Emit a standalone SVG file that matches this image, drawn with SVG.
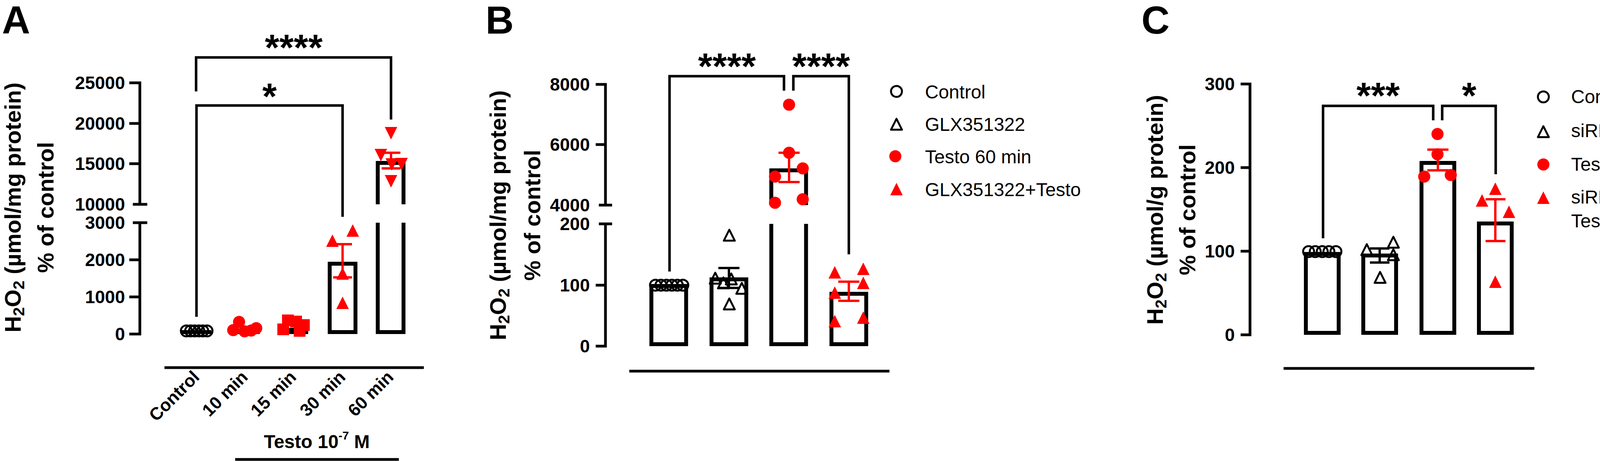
<svg xmlns="http://www.w3.org/2000/svg" xmlns:xlink="http://www.w3.org/1999/xlink" width="4300" height="1180" viewBox="0 0 4300 1180">
<style>
text{font-family:"Liberation Sans",Arial,sans-serif;font-weight:bold;fill:#000}
.ax{stroke:#000;stroke-width:7;fill:none}
.bar{stroke:#000;stroke-width:10;fill:#fff}
.barl{stroke:#000;stroke-width:10;fill:none}
.br{stroke:#000;stroke-width:6.5;fill:none}
.eb{stroke:#f00;stroke-width:6;fill:none}
.base{stroke:#000;stroke-width:7;fill:none}
.tick{font-size:46px;text-anchor:end}
.star{font-size:95px;text-anchor:middle}
.xl{font-size:45px;text-anchor:end}
.ttl{font-size:58px;text-anchor:middle}
.pl{font-size:100px}
.leg{font-size:48px;font-weight:normal}
</style>
<defs>
<circle id="oc" r="14" fill="none" stroke="#000" stroke-width="5"/>
<circle id="rc" r="15.5" fill="#f00"/>
<path id="ot" d="M0,-14 L14,14 L-14,14 Z" fill="none" stroke="#000" stroke-width="5" stroke-linejoin="round"/>
<path id="rt" d="M0,-16 L16,16 L-16,16 Z" fill="#f00"/>
<path id="rit" d="M0,16 L16,-16 L-16,-16 Z" fill="#f00"/>
<rect id="rs" x="-15" y="-15" width="30" height="30" fill="#f00"/>
</defs>

<!-- ================= PANEL A ================= -->
<g id="panelA">
<text class="pl" x="5" y="86">A</text>
<g id="A-ytitle">
<text class="ttl" transform="translate(53,531) rotate(-90)">H<tspan font-size="41" dy="9">2</tspan><tspan dy="-9">O</tspan><tspan font-size="41" dy="9">2</tspan><tspan dy="-9"> (µmol/mg protein)</tspan></text>
<text class="ttl" transform="translate(137,531) rotate(-90)">% of control</text>
</g>
<g id="A-yaxis">
<path class="ax" d="M331,212 H358 V523"/>
<path class="ax" d="M331,316 H358 M331,419 H358"/>
<path class="ax" d="M340,523 H377 M340,570 H377"/>
<path class="ax" d="M358,570 V855 H331 M331,665 H358 M331,760 H358"/>
<text class="tick" x="320" y="228">25000</text>
<text class="tick" x="320" y="332">20000</text>
<text class="tick" x="320" y="435">15000</text>
<text class="tick" x="320" y="539">10000</text>
<text class="tick" x="320" y="586">3000</text>
<text class="tick" x="320" y="681">2000</text>
<text class="tick" x="320" y="776">1000</text>
<text class="tick" x="320" y="871">0</text>
</g>
<g id="A-bar-control">
<rect x="465" y="845" width="76" height="10" fill="#000"/>
<use xlink:href="#oc" x="477" y="847"/><use xlink:href="#oc" x="488" y="847"/><use xlink:href="#oc" x="498" y="847"/><use xlink:href="#oc" x="509" y="847"/><use xlink:href="#oc" x="519" y="847"/><use xlink:href="#oc" x="530" y="847"/>
</g>
<g id="A-bar-10min">
<rect x="589" y="843" width="76" height="12" fill="#000"/>
<use xlink:href="#rc" x="612" y="824"/><use xlink:href="#rc" x="597" y="845"/><use xlink:href="#rc" x="626" y="848"/><use xlink:href="#rc" x="643" y="846"/><use xlink:href="#rc" x="656" y="840"/>
</g>
<g id="A-bar-15min">
<rect x="713" y="839" width="76" height="16" fill="#000"/>
<use xlink:href="#rs" x="737" y="820"/><use xlink:href="#rs" x="758" y="823"/><use xlink:href="#rs" x="778" y="832"/><use xlink:href="#rs" x="725" y="843"/><use xlink:href="#rs" x="767" y="847"/>
</g>
<g id="A-bar-30min">
<path class="bar" d="M844,850 V675 H910 V850 Z"/>
<path class="eb" d="M877,625 V710 M853,625 H901 M853,710 H901"/>
<use xlink:href="#rt" x="851" y="616"/><use xlink:href="#rt" x="903" y="590"/><use xlink:href="#rt" x="877" y="700"/><use xlink:href="#rt" x="877" y="775"/>
</g>
<g id="A-bar-60min">
<path class="barl" d="M967,523 V417 H1033 V523"/>
<path class="barl" d="M967,570 V850 H1033 V570"/>
<path class="eb" d="M1001,391 V431 M977,391 H1025 M977,431 H1025"/>
<use xlink:href="#rit" x="1001" y="341"/><use xlink:href="#rit" x="975" y="397"/><use xlink:href="#rit" x="1003" y="421"/><use xlink:href="#rit" x="1028" y="420"/><use xlink:href="#rit" x="1001" y="464"/>
</g>
<g id="A-connectors">
<path class="br" d="M502,234 V147 H1001 V306"/>
<path class="br" d="M503,811 V270 H877 V555"/>
<text class="star" x="752" y="154">****</text>
<text class="star" x="690" y="279">*</text>
</g>
<g id="A-xaxis">
<path class="base" d="M421,941 H1085"/>
<text class="xl" transform="translate(513,968) rotate(-45)">Control</text>
<text class="xl" transform="translate(637,968) rotate(-45)">10 min</text>
<text class="xl" transform="translate(761,968) rotate(-45)">15 min</text>
<text class="xl" transform="translate(887,968) rotate(-45)">30 min</text>
<text class="xl" transform="translate(1010,968) rotate(-45)">60 min</text>
<text font-size="48" x="811" y="1147" text-anchor="middle">Testo 10<tspan font-size="30" dy="-22">-7</tspan><tspan dy="22"> M</tspan></text>
<path class="base" d="M602,1176 H1021"/>
</g>
</g>

<!-- ================= PANEL B ================= -->
<g id="panelB">
<text class="pl" x="1243" y="86">B</text>
<g id="B-ytitle">
<text class="ttl" transform="translate(1295,551) rotate(-90)">H<tspan font-size="41" dy="9">2</tspan><tspan dy="-9">O</tspan><tspan font-size="41" dy="9">2</tspan><tspan dy="-9"> (µmol/mg protein)</tspan></text>
<text class="ttl" transform="translate(1383,551) rotate(-90)">% of control</text>
</g>
<g id="B-yaxis">
<path class="ax" d="M1525,216 H1550 V525"/>
<path class="ax" d="M1525,370 H1550"/>
<path class="ax" d="M1533,525 H1567 M1533,573 H1567"/>
<path class="ax" d="M1550,573 V886 H1525 M1525,730 H1550"/>
<text class="tick" x="1510" y="232">8000</text>
<text class="tick" x="1510" y="386">6000</text>
<text class="tick" x="1510" y="541">4000</text>
<text class="tick" x="1510" y="589">200</text>
<text class="tick" x="1510" y="746">100</text>
<text class="tick" x="1510" y="902">0</text>
</g>
<g id="B-bar-control">
<path class="bar" d="M1667.5,881 V732 H1756.5 V881 Z"/>
<use xlink:href="#oc" x="1678" y="730"/><use xlink:href="#oc" x="1692" y="730"/><use xlink:href="#oc" x="1706" y="730"/><use xlink:href="#oc" x="1720" y="730"/><use xlink:href="#oc" x="1734" y="730"/><use xlink:href="#oc" x="1748" y="730"/>
</g>
<g id="B-bar-glx">
<path class="bar" d="M1821.5,881 V715 H1910.5 V881 Z"/>
<path d="M1866,686 V737 M1839,686 H1893 M1839,737 H1893" stroke="#000" stroke-width="6" fill="none"/>
<use xlink:href="#ot" x="1867" y="602"/><use xlink:href="#ot" x="1831" y="712"/><use xlink:href="#ot" x="1872" y="714"/><use xlink:href="#ot" x="1899" y="738"/><use xlink:href="#ot" x="1852" y="724"/><use xlink:href="#ot" x="1867" y="778"/>
</g>
<g id="B-bar-testo">
<path class="barl" d="M1974.5,525 V436 H2063.5 V525"/>
<path class="barl" d="M1974.5,573 V881 H2063.5 V573"/>
<path class="eb" d="M2020,391 V466 M1993,391 H2047 M1993,466 H2047"/>
<use xlink:href="#rc" x="2020" y="268"/><use xlink:href="#rc" x="2020" y="391"/><use xlink:href="#rc" x="2055" y="431"/><use xlink:href="#rc" x="1984" y="452"/><use xlink:href="#rc" x="1984" y="519"/><use xlink:href="#rc" x="2055" y="510"/>
</g>
<g id="B-bar-glxtesto">
<path class="bar" d="M2128.5,881 V752 H2217.5 V881 Z"/>
<path class="eb" d="M2173,721 V770 M2146,721 H2200 M2146,770 H2200"/>
<use xlink:href="#rt" x="2137" y="697"/><use xlink:href="#rt" x="2210" y="688"/><use xlink:href="#rt" x="2210" y="724"/><use xlink:href="#rt" x="2137" y="749"/><use xlink:href="#rt" x="2137" y="822"/><use xlink:href="#rt" x="2210" y="813"/>
</g>
<g id="B-connectors">
<path class="br" d="M1714,695 V195 H2007 V232"/>
<path class="br" d="M2031,232 V195 H2173 V651"/>
<text class="star" x="1861" y="202">****</text>
<text class="star" x="2102" y="202">****</text>
</g>
<path class="base" d="M1611,950 H2277"/>
<g id="B-legend">
<use xlink:href="#oc" x="2295" y="234"/>
<use xlink:href="#ot" x="2295" y="318"/>
<use xlink:href="#rc" x="2292" y="400"/>
<use xlink:href="#rt" x="2295" y="484"/>
<text class="leg" x="2368" y="252">Control</text>
<text class="leg" x="2368" y="335">GLX351322</text>
<text class="leg" x="2368" y="418">Testo 60 min</text>
<text class="leg" x="2368" y="502">GLX351322+Testo</text>
</g>
</g>

<!-- ================= PANEL C ================= -->
<g id="panelC">
<text class="pl" x="2922" y="86">C</text>
<g id="C-ytitle">
<text class="ttl" transform="translate(2977,537) rotate(-90)">H<tspan font-size="41" dy="9">2</tspan><tspan dy="-9">O</tspan><tspan font-size="41" dy="9">2</tspan><tspan dy="-9"> (µmol/g protein)</tspan></text>
<text class="ttl" transform="translate(3060,537) rotate(-90)">% of control</text>
</g>
<g id="C-yaxis">
<path class="ax" d="M3176,215 H3200 V857 H3176 M3176,429 H3200 M3176,643 H3200"/>
<text class="tick" x="3161" y="231">300</text>
<text class="tick" x="3161" y="445">200</text>
<text class="tick" x="3161" y="659">100</text>
<text class="tick" x="3161" y="873">0</text>
</g>
<g id="C-bar-control">
<path class="bar" d="M3343,852 V650 H3427 V852 Z"/>
<use xlink:href="#oc" x="3350" y="644"/><use xlink:href="#oc" x="3367" y="644"/><use xlink:href="#oc" x="3385" y="644"/><use xlink:href="#oc" x="3402" y="644"/><use xlink:href="#oc" x="3420" y="644"/>
</g>
<g id="C-bar-sirna">
<path class="bar" d="M3490,852 V654 H3574 V852 Z"/>
<path d="M3532,636 V672 M3507,636 H3557 M3507,672 H3557" stroke="#000" stroke-width="6" fill="none"/>
<use xlink:href="#ot" x="3499" y="639"/><use xlink:href="#ot" x="3567" y="620"/><use xlink:href="#ot" x="3567" y="652"/><use xlink:href="#ot" x="3533" y="710"/>
</g>
<g id="C-bar-testo">
<path class="bar" d="M3639,852 V417 H3723 V852 Z"/>
<path class="eb" d="M3681,383 V436 M3654,383 H3708 M3654,436 H3708"/>
<use xlink:href="#rc" x="3680" y="343"/><use xlink:href="#rc" x="3680" y="395"/><use xlink:href="#rc" x="3646" y="452"/><use xlink:href="#rc" x="3714" y="448"/>
</g>
<g id="C-bar-sirnatesto">
<path class="bar" d="M3786,852 V572 H3870 V852 Z"/>
<path class="eb" d="M3828,510 V617 M3803,510 H3854 M3803,617 H3854"/>
<use xlink:href="#rt" x="3828" y="483"/><use xlink:href="#rt" x="3794" y="513"/><use xlink:href="#rt" x="3863" y="542"/><use xlink:href="#rt" x="3828" y="721"/>
</g>
<g id="C-connectors">
<path class="br" d="M3387,610 V271 H3669 V308"/>
<path class="br" d="M3692,308 V271 H3829 V446"/>
<text class="star" x="3528" y="277">***</text>
<text class="star" x="3761" y="277">*</text>
</g>
<path class="base" d="M3286,943 H3928"/>
<g id="C-legend">
<use xlink:href="#oc" x="3951" y="248"/>
<use xlink:href="#ot" x="3951" y="337"/>
<use xlink:href="#rc" x="3951" y="421"/>
<use xlink:href="#rt" x="3951" y="506"/>
<text class="leg" x="4022" y="264">Control</text>
<text class="leg" x="4022" y="351">siRNA Nox4</text>
<text class="leg" x="4022" y="437">Testo 60 min</text>
<text class="leg" x="4022" y="521">siRNA Nox4</text>
<text class="leg" x="4022" y="582">Testo 60 min</text>
</g>
</g>
</svg>
